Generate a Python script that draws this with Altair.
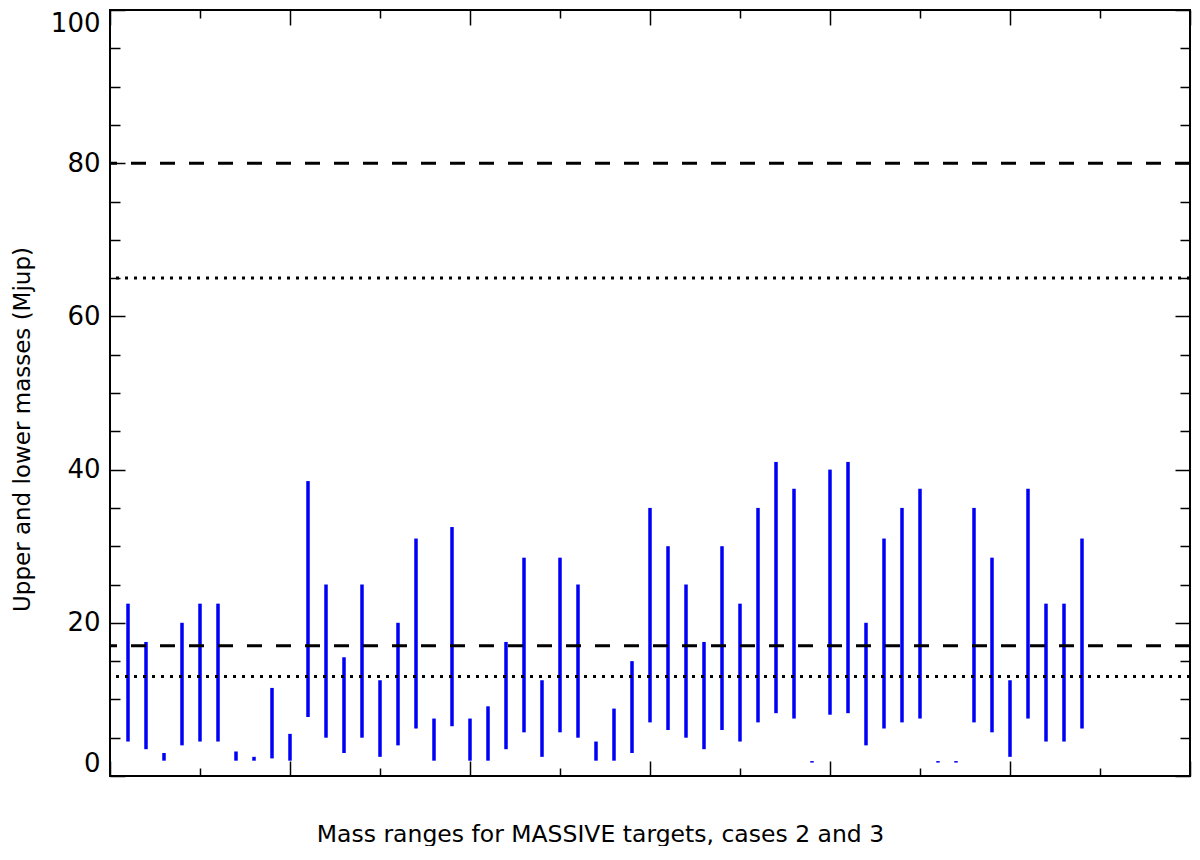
import altair as alt
import pandas as pd

# ---- data ----
target_index = list(range(1, 55))
mass_low = [4.5, 3.5, 2.0, 4.0, 4.5, 4.5, 2.0, 2.0, 2.3, 2.0,
            7.7, 5.0, 3.0, 5.0, 2.5, 4.0, 6.2, 2.0, 6.5, 2.0,
            2.0, 3.5, 5.7, 2.5, 5.7, 5.0, 2.0, 2.0, 3.0, 7.0,
            6.0, 5.0, 3.5, 6.0, 4.5, 7.0, 8.2, 7.5, 1.75, 8.0,
            8.2, 4.0, 6.2, 7.0, 7.5, 1.75, 1.75, 7.0, 5.7, 2.5,
            7.5, 4.5, 4.5, 6.2]
mass_high = [22.5, 17.5, 3.0, 20.0, 22.5, 22.5, 3.2, 2.5, 11.5, 5.5,
             38.5, 25.0, 15.5, 25.0, 12.5, 20.0, 31.0, 7.5, 32.5, 7.5,
             9.1, 17.5, 28.5, 12.5, 28.5, 25.0, 4.5, 8.8, 15.0, 35.0,
             30.0, 25.0, 17.5, 30.0, 22.5, 35.0, 41.0, 37.5, 1.95, 40.0,
             41.0, 20.0, 31.0, 35.0, 37.5, 1.95, 1.95, 35.0, 28.5, 12.5,
             37.5, 22.5, 22.5, 31.0]
ref_values = [80, 65, 17, 13]
ref_styles = ["dashed", "dotted", "dashed", "dotted"]
x_tick_values = list(range(0, 61, 5))
y_tick_values = list(range(0, 101, 5))
y_label_values = [0, 20, 40, 60, 80, 100]

df = pd.DataFrame({"idx": target_index, "low": mass_low, "high": mass_high})
ref = pd.DataFrame({"value": ref_values, "style": ref_styles})

W, H = 1080, 766
TOP = 2
FONT = "DejaVu Sans"
BLUE = "#0000f5"

xscale = alt.Scale(domain=[0, 60], nice=False, zero=False)
yscale = alt.Scale(domain=[0, 100], nice=False, zero=False)

x_tick_size = {"condition": {"test": "datum.value % 10 === 0", "value": 15}, "value": 8}
y_tick_size = {"condition": {"test": "datum.value % 20 === 0", "value": 15}, "value": 10}

x_main_axis = alt.Axis(
    title="Mass ranges for MASSIVE targets, cases 2 and 3",
    labels=False, ticks=False, domain=False, grid=False,
    titleFont=FONT, titleFontSize=23.5, titleFontWeight="normal", titleColor="black",
    titleX=490, titleY=58, titleAlign="center", titleBaseline="middle",
)
y_main_axis = alt.Axis(
    title="Upper and lower masses (Mjup)",
    values=y_label_values, ticks=False, domain=False, grid=False,
    labelFont=FONT, labelFontSize=26, labelColor="black", labelPadding=10,
    labelFlush=True,
    titleFont=FONT, titleFontSize=23, titleFontWeight="normal", titleColor="black",
    titleX=-88, titleY=429 - 8 - TOP, titleAngle=270, titleAlign="center",
    titleBaseline="middle",
)

def tick_axis_x(orient):
    return alt.Axis(orient=orient, offset=-H, values=x_tick_values, labels=False,
                    domain=False, grid=False, title=None, tickColor="black",
                    tickWidth=1.5, tickSize=x_tick_size)

def tick_axis_y(orient):
    return alt.Axis(orient=orient, offset=-W, values=y_tick_values, labels=False,
                    domain=False, grid=False, title=None, tickColor="black",
                    tickWidth=1.5, tickSize=y_tick_size)

base = alt.Chart(df)

bars = base.mark_rule(color=BLUE, strokeWidth=3.5).encode(
    x=alt.X("idx:Q", scale=xscale, axis=x_main_axis),
    y=alt.Y("low:Q", scale=yscale, axis=y_main_axis),
    y2="high:Q",
)

ticks_a = base.mark_rule(opacity=0).encode(
    x=alt.X("idx:Q", scale=xscale, axis=tick_axis_x("top")),
    y=alt.Y("low:Q", scale=yscale, axis=tick_axis_y("right")),
    y2="high:Q",
)

ticks_b = base.mark_rule(opacity=0).encode(
    x=alt.X("idx:Q", scale=xscale, axis=tick_axis_x("bottom")),
    y=alt.Y("low:Q", scale=yscale, axis=tick_axis_y("left")),
    y2="high:Q",
)

refs = alt.Chart(ref).mark_rule(color="black", strokeWidth=3).encode(
    y=alt.Y("value:Q", scale=yscale, axis=None),
    strokeDash=alt.StrokeDash("style:N", scale=alt.Scale(domain=["dashed", "dotted"],
                                                         range=[[15, 14], [3, 6]]),
                              legend=None),
)

chart = alt.layer(bars, refs, ticks_a, ticks_b).resolve_axis(
    x="independent", y="independent"
).properties(
    width=W, height=H,
    autosize=alt.AutoSizeParams(type="none"),
    padding={"left": 102, "top": TOP, "right": 2, "bottom": 70},
).configure_view(stroke="black", strokeWidth=2)

chart.save("out.html", embed_options={"renderer": "svg", "actions": False})
